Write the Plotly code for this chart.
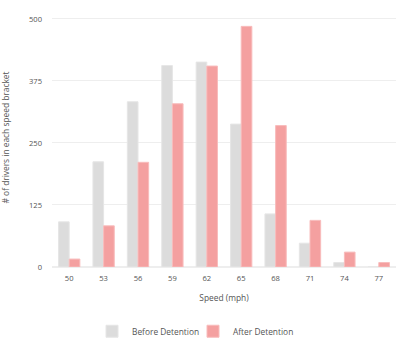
import plotly.graph_objects as go

speeds = ["50", "53", "56", "59", "62", "65", "68", "71", "74", "77"]
before = [91, 212, 333, 406, 413, 288, 107, 48, 9, 0]
after = [16, 83, 211, 329, 405, 485, 285, 94, 30, 9]
y_ticks = [0, 125, 250, 375, 500]

fig = go.Figure()
fig.add_trace(go.Bar(x=speeds, y=before, name="Before Detention", legendwidth=56,
                     marker=dict(color="#dcdcdc", line=dict(color="#e6e6e6", width=1))))
fig.add_trace(go.Bar(x=speeds, y=after, name="After Detention", legendwidth=70,
                     marker=dict(color="#f4a0a0", line=dict(color="#f8bcbc", width=1))))

fig.update_layout(
    width=400, height=338,
    margin=dict(l=52, r=4, t=8, b=71, autoexpand=False),
    paper_bgcolor="white", plot_bgcolor="white",
    font=dict(family="Open Sans", size=8.4, color="#555"),
    barmode="group", bargap=0.38, bargroupgap=0,
    showlegend=True,
    legend=dict(orientation="h", xref="container", yref="container",
                x=0.23, xanchor="left", y=0.02, yanchor="middle",
                font=dict(size=8.4, color="#555"), itemwidth=30,
                traceorder="normal"),
    xaxis=dict(type="category", showgrid=False, showline=False, ticks="",
               tickfont=dict(size=7.6, color="#555"), ticklabelstandoff=5,
               title=dict(text="Speed (mph)", font=dict(size=8.4, color="#555"), standoff=13)),
    yaxis=dict(range=[0, 522], tickvals=y_ticks, showgrid=True, gridcolor="#eeeeee",
               zeroline=True, zerolinecolor="#eeeeee", showline=False, ticks="",
               tickfont=dict(size=7.6, color="#555"), ticklabelstandoff=9,
               title=dict(text="# of drivers in each speed bracket", font=dict(size=8.4, color="#555"), standoff=22)),
)

fig.write_html("out.html")
